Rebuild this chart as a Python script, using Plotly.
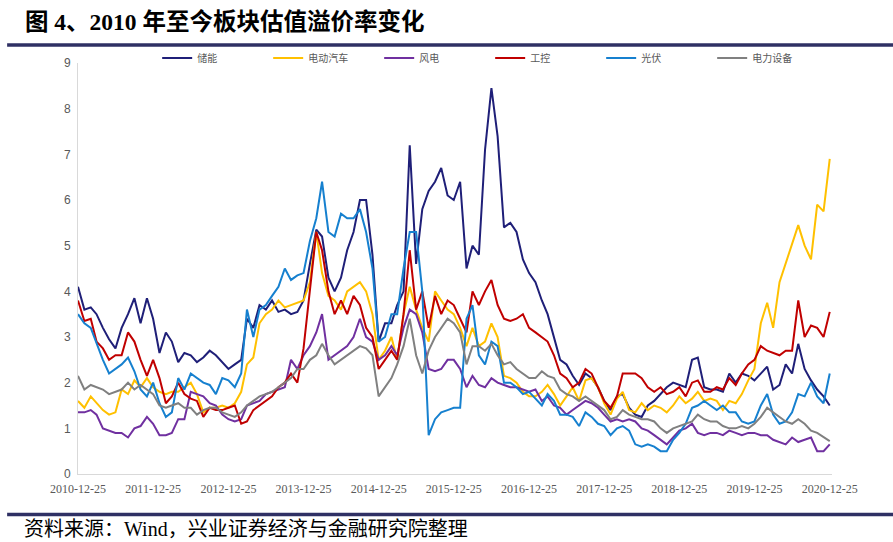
import pandas as pd
import plotly.graph_objects as go

# Monthly observation dates (25th of each month), 2010-12 .. 2020-12
dates = pd.date_range("2010-12-25", periods=121, freq=pd.DateOffset(months=1))

tick_labels = ["2010-12-25", "2011-12-25", "2012-12-25", "2013-12-25", "2014-12-25",
               "2015-12-25", "2016-12-25", "2017-12-25", "2018-12-25", "2019-12-25",
               "2020-12-25"]

storage = [4.1, 3.6, 3.65, 3.5, 3.2, 2.95, 2.75, 3.2, 3.5, 3.85, 3.3, 3.85, 3.4, 2.65, 3.1, 2.9, 2.45, 2.65, 2.6, 2.45,
           2.55, 2.7, 2.6, 2.45, 2.3, 2.4, 2.5, 3.4, 3.2, 3.7, 3.6, 3.8, 3.55, 3.6, 3.5, 3.55, 3.8, 4.6, 5.35, 5.2,
           4.3, 4.0, 4.3, 4.9, 5.3, 6.0, 6.0, 4.8, 2.9, 3.3, 3.3, 3.7, 4.0, 7.2, 4.6, 5.8, 6.2, 6.4, 6.7, 6.1,
           6.0, 6.4, 4.5, 5.0, 4.8, 7.1, 8.45, 7.4, 5.4, 5.5, 5.3, 4.7, 4.4, 4.2, 3.8, 3.5, 3.0, 2.5, 2.4, 2.15, 1.95, 2.2,
           2.1, 1.9, 1.6, 1.4, 1.7, 1.75, 1.45, 1.3, 1.25, 1.5, 1.6, 1.75, 1.9, 2.0, 1.95, 1.9, 2.5, 2.55, 1.9, 1.85,
           1.85, 1.8, 2.2, 2.0, 2.2, 2.15, 2.05, 2.2, 2.35, 1.85, 1.95, 2.4, 2.2, 2.85, 2.3, 2.05, 1.85, 1.7, 1.5]

ev = [1.6, 1.45, 1.7, 1.55, 1.4, 1.3, 1.35, 1.85, 1.75, 2.05, 1.9, 2.1, 1.9, 1.8, 1.75, 1.8, 1.8, 1.9, 2.0, 1.75,
      1.35, 1.45, 1.45, 1.5, 1.45, 1.55, 1.8, 2.4, 2.55, 3.3, 3.5, 3.6, 3.8, 3.65, 3.7, 3.75, 3.8, 4.2, 5.3, 4.4,
      3.9, 3.8, 3.6, 4.0, 4.1, 4.2, 4.0, 3.5, 2.5, 2.7, 3.0, 2.5, 3.5, 4.1, 3.6, 3.2, 2.9, 4.0, 3.8, 3.6,
      3.5, 3.2, 2.8, 3.2, 2.8, 2.9, 3.3, 3.0, 2.15, 2.1, 2.0, 1.8, 1.7, 1.7, 1.8, 1.95, 1.75, 1.5, 1.7, 1.9, 1.6, 2.05,
      2.1, 1.9, 1.55, 1.3, 1.65, 1.8, 1.4, 1.35, 1.55, 1.4, 1.5, 1.45, 1.35, 1.5, 1.7, 1.55, 1.65, 1.8, 1.6, 1.65,
      1.6, 1.4, 1.6, 1.55, 1.75, 2.05, 2.3, 3.3, 3.75, 3.2, 4.2, 4.6, 5.0, 5.45, 5.0, 4.7, 5.9, 5.75, 6.9]

wind = [1.35, 1.35, 1.4, 1.3, 1.0, 0.95, 0.9, 0.9, 0.8, 1.0, 1.05, 1.25, 1.1, 0.85, 0.85, 0.9, 1.2, 1.2, 1.8, 1.75,
        1.7, 1.55, 1.5, 1.3, 1.2, 1.15, 1.2, 1.5, 1.55, 1.6, 1.75, 1.8, 1.85, 1.9, 2.5, 2.3, 2.6, 2.8, 3.1, 3.5,
        2.5, 2.6, 2.7, 2.8, 3.0, 3.4, 3.0, 2.9, 2.5, 2.6, 2.8, 2.6, 3.2, 3.6, 3.5, 3.1, 2.3, 2.25, 2.3, 2.5,
        2.5, 2.3, 1.9, 2.15, 1.95, 1.9, 2.1, 2.0, 1.95, 1.9, 1.9, 1.85, 1.8, 1.85, 1.6, 1.7, 1.5, 1.45, 1.3, 1.4, 1.5, 1.6,
        1.55, 1.45, 1.3, 1.15, 1.2, 1.15, 1.2, 1.15, 1.0, 0.95, 0.85, 0.75, 0.65, 0.8, 0.95, 1.0, 1.1, 0.9, 0.85, 0.9,
        0.9, 0.85, 0.95, 0.9, 0.85, 0.9, 0.9, 0.85, 0.85, 0.75, 0.7, 0.65, 0.8, 0.7, 0.75, 0.8, 0.5, 0.5, 0.65]

industrial = [3.8, 3.35, 3.4, 2.9, 2.75, 2.5, 2.6, 2.6, 3.1, 2.9, 2.5, 2.15, 2.5, 2.1, 1.55, 1.7, 2.0, 1.75, 1.65, 1.6,
              1.25, 1.45, 1.4, 1.4, 1.45, 1.5, 1.1, 1.15, 1.4, 1.5, 1.6, 1.7, 1.9, 2.0, 2.2, 2.0, 2.75, 4.0, 5.3, 4.9,
              4.0, 3.5, 3.8, 3.5, 3.9, 3.7, 3.2, 3.0, 2.3, 2.5, 2.7, 2.5, 3.5, 4.9, 3.6, 4.0, 3.2, 3.9, 3.5, 3.8,
              3.7, 3.4, 3.1, 4.0, 3.7, 4.0, 4.25, 3.7, 3.4, 3.35, 3.4, 3.5, 3.2, 3.1, 3.0, 2.9, 2.6, 2.2, 2.1, 1.9, 2.0, 2.3,
              2.2, 1.9, 1.6, 1.45, 1.7, 2.2, 2.2, 2.2, 2.1, 1.9, 1.8, 1.9, 1.75, 1.8, 1.9, 1.7, 2.0, 2.05, 1.8, 1.8,
              1.9, 1.85, 2.1, 1.95, 2.2, 2.4, 2.5, 2.8, 2.7, 2.65, 2.6, 2.7, 2.7, 3.8, 3.0, 3.25, 3.2, 3.0, 3.55]

solar = [3.5, 3.3, 3.2, 2.85, 2.5, 2.2, 2.3, 2.4, 2.55, 2.25, 1.85, 1.7, 2.0, 1.55, 1.25, 1.35, 2.1, 1.85, 2.2, 2.1,
         2.0, 1.95, 1.75, 2.1, 2.05, 1.9, 2.2, 3.6, 3.0, 3.6, 3.7, 3.9, 4.1, 4.5, 4.25, 4.35, 4.4, 5.1, 5.6, 6.4,
         5.3, 5.2, 5.7, 5.6, 5.6, 5.8, 5.3, 4.5, 2.9, 3.0, 3.5, 3.5, 4.5, 5.3, 5.3, 4.0, 0.85, 1.2, 1.35, 1.4,
         1.45, 1.45, 3.4, 3.7, 2.6, 2.4, 2.9, 2.8, 2.0, 2.0, 1.9, 1.75, 1.8, 1.65, 1.5, 1.75, 1.6, 1.3, 1.3, 1.25, 1.05, 1.35,
         1.25, 1.1, 1.05, 0.85, 1.0, 1.05, 0.95, 0.65, 0.6, 0.65, 0.6, 0.5, 0.5, 0.75, 0.9, 1.1, 1.45, 1.5, 1.6, 1.5,
         1.4, 1.5, 1.35, 1.35, 1.15, 1.1, 1.15, 1.5, 1.75, 1.3, 1.1, 1.15, 1.35, 1.75, 1.7, 2.0, 1.7, 1.55, 2.2]

power_equip = [2.15, 1.85, 1.95, 1.9, 1.85, 1.75, 1.8, 1.85, 2.0, 1.85, 1.95, 1.85, 1.75, 1.5, 1.45, 1.5, 1.55, 1.45, 1.45, 1.3,
               1.4, 1.45, 1.45, 1.35, 1.3, 1.25, 1.35, 1.5, 1.6, 1.7, 1.75, 1.8, 1.9, 2.0, 2.1, 2.3, 2.3, 2.5, 2.6, 2.85,
               2.6, 2.4, 2.5, 2.6, 2.7, 2.8, 2.75, 2.6, 1.7, 1.9, 2.1, 2.4, 2.8, 3.4, 2.6, 2.2, 2.7, 3.0, 3.2, 3.4,
               3.3, 3.1, 2.4, 2.8, 2.8, 2.7, 2.85, 2.6, 2.4, 2.45, 2.3, 2.2, 2.1, 2.1, 2.25, 2.15, 2.1, 1.85, 1.75, 1.7, 1.6, 1.7,
               1.6, 1.5, 1.4, 1.2, 1.25, 1.4, 1.3, 1.25, 1.2, 1.2, 1.15, 1.0, 0.9, 1.0, 1.05, 1.1, 1.15, 1.3, 1.2, 1.15,
               1.15, 1.05, 1.0, 1.0, 1.05, 1.0, 1.1, 1.25, 1.45, 1.35, 1.25, 1.15, 1.1, 1.2, 1.1, 0.95, 0.9, 0.8, 0.72]

series_names = ["储能", "电动汽车", "风电", "工控", "光伏", "电力设备"]
series_values = [storage, ev, wind, industrial, solar, power_equip]
series_colors = ["#1F1F78", "#FFC000", "#7030A0", "#C00000", "#1680CF", "#808080"]

fig = go.Figure()
for name, vals, col in zip(series_names, series_values, series_colors):
    fig.add_trace(go.Scatter(x=dates, y=vals, mode="lines", name=name,
                             line=dict(color=col, width=2)))

CJK = "Liberation Serif, Noto Sans CJK SC"

fig.update_layout(
    width=893, height=542,
    margin=dict(l=78, r=61, t=63, b=68),
    paper_bgcolor="white", plot_bgcolor="white",
    showlegend=True,
    legend=dict(orientation="h", x=0.105, y=1.012, xanchor="left", yanchor="middle",
                font=dict(family="Noto Sans CJK SC", size=10, color="#595959"),
                entrywidthmode="pixels", entrywidth=66, itemwidth=30,
                bgcolor="rgba(0,0,0,0)"),
    xaxis=dict(type="date", range=["2010-12-25", "2021-01-05"],
               tickvals=[pd.Timestamp(t) for t in tick_labels], ticktext=tick_labels,
               showgrid=False, zeroline=False, showline=True, linecolor="#D9D9D9", linewidth=1,
               ticks="", ticklabelstandoff=4,
               tickfont=dict(family="Liberation Serif", size=12, color="#595959")),
    yaxis=dict(range=[0, 9], dtick=1, showgrid=False, zeroline=False, showline=True,
               linecolor="#D9D9D9", linewidth=1, ticks="", ticklabelstandoff=4,
               tickfont=dict(family="Liberation Sans", size=12, color="#595959")),
    annotations=[
        dict(text="<b>图 4、2010 年至今板块估值溢价率变化</b>", xref="paper", yref="paper",
             x=-0.073, y=1.0998, xanchor="left", yanchor="middle", showarrow=False,
             font=dict(family=CJK, size=23.5, color="#000000")),
        dict(text="资料来源：Wind，兴业证券经济与金融研究院整理", xref="paper", yref="paper",
             x=-0.074, y=-0.134, xanchor="left", yanchor="middle", showarrow=False,
             font=dict(family=CJK, size=20, color="#000000")),
    ],
    shapes=[
        dict(type="line", xref="paper", yref="paper", x0=-0.094, x1=1.1101, y0=1.0438, y1=1.0438,
             line=dict(color="#2F3064", width=3.5)),
        dict(type="line", xref="paper", yref="paper", x0=-0.094, x1=1.1101, y0=-0.0985, y1=-0.0985,
             line=dict(color="#2F3064", width=3.5)),
    ],
)

fig.write_html("out.html", config={"displayModeBar": False},
               post_script="document.body.style.margin='0px';")
